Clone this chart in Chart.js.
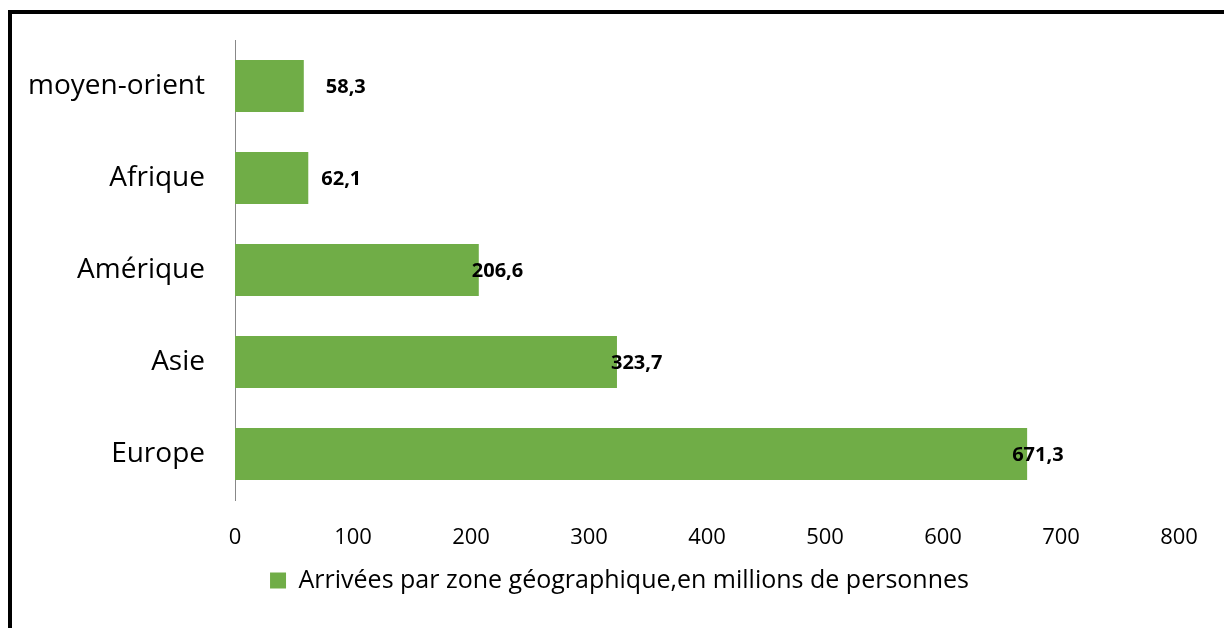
<!DOCTYPE html>
<html>
<head>
<meta charset="utf-8">
<script src="https://cdn.jsdelivr.net/npm/chart.js@4/dist/chart.umd.min.js"></script>
<style>
    html, body {margin: 0; padding: 0; background: #fff;}
    #wrap {position: relative; width: 1224px; height: 628px; overflow: hidden;}
    #frame {position: absolute; left: 8px; top: 10px; width: 1400px; height: 800px; border: 4px solid #000; pointer-events: none;}
    canvas {position: absolute; left: 0; top: 0;}
</style>
</head>
<body>
<div id="wrap">
    <canvas id="chart" width="1224" height="628"></canvas>
    <div id="frame"></div>
</div>
<script>
const zones = ['moyen-orient', 'Afrique', 'Amérique', 'Asie', 'Europe'];
const arrivees = [58.3, 62.1, 206.6, 323.7, 671.3];
const xTicks = [0, 100, 200, 300, 400, 500, 600, 700, 800];
const serieLabel = 'Arrivées par zone géographique,en millions de personnes';

// petits décalages des étiquettes, comme dans le graphique d'origine
const decalages = [22, 13, -7, -6, -15];

const etiquettes = {
    id: 'etiquettes',
    afterLayout(chart) {
        // la légende est centrée un peu plus à droite
        chart.legend.left = 60;
    },
    afterDatasetsDraw(chart) {
        const ctx = chart.ctx;
        const meta = chart.getDatasetMeta(0);
        ctx.save();
        ctx.font = 'bold 20px "Open Sans"';
        ctx.fillStyle = '#000';
        ctx.textAlign = 'left';
        ctx.textBaseline = 'middle';
        meta.data.forEach((bar, i) => {
            const txt = arrivees[i].toFixed(1).replace('.', ',');
            ctx.fillText(txt, bar.x + decalages[i], bar.y + 1);
        });
        ctx.restore();
    }
};

new Chart(document.getElementById('chart').getContext('2d'), {
    type: 'bar',
    data: {
        labels: zones,
        datasets: [{
            label: serieLabel,
            data: arrivees,
            backgroundColor: '#70ad47',
            barPercentage: 0.565,
            categoryPercentage: 1
        }]
    },
    options: {
        indexAxis: 'y',
        responsive: false,
        animation: false,
        layout: {padding: {left: 0, right: 45, top: 40, bottom: 25}},
        scales: {
            x: {
                min: 0,
                max: 800,
                afterBuildTicks: s => { s.ticks = xTicks.map(v => ({value: v})); },
                afterFit: s => { s.height = 60; s.paddingLeft = 0; s.paddingRight = 0; },
                grid: {display: false, drawTicks: false},
                border: {display: false},
                ticks: {color: '#000', padding: 25, font: {family: 'Open Sans', size: 22}}
            },
            y: {
                afterFit: s => { s.width = 235; s.paddingTop = 0; s.paddingBottom = 0; },
                grid: {display: false, drawTicks: false},
                border: {display: true, color: '#888', width: 1},
                ticks: {color: '#000', padding: 30, font: {family: 'Open Sans', size: 28}}
            }
        },
        plugins: {
            tooltip: {enabled: false},
            legend: {
                position: 'bottom',
                labels: {
                    color: '#000',
                    boxWidth: 16,
                    boxHeight: 16,
                    padding: 8,
                    font: {family: 'Open Sans', size: 25}
                }
            }
        }
    },
    plugins: [etiquettes]
});
</script>
</body>
</html>
